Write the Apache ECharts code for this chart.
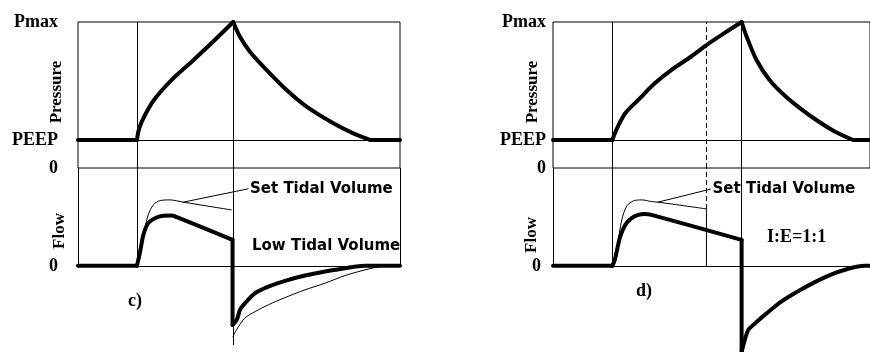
<!DOCTYPE html>
<html>
<head>
<meta charset="utf-8">
<script src="https://cdn.jsdelivr.net/npm/echarts@6/dist/echarts.min.js"></script>
<style>
  html, body { margin: 0; padding: 0; background: #fff; }
  #chart { width: 870px; height: 352px; }
</style>
</head>
<body>
<div id="chart"></div>
<script>
// y ticks
const PEEP = 19.2
const PMAX = 100
const pressureTicks = [0, PEEP, PMAX]
const pressureTickLabels = ['0', 'PEEP', 'Pmax']
const flowTicks = [0]
const flowTickLabels = ['0']

// panel c) - low tidal volume
const cInspStart = 18.4
const cInspEnd = 48.1
const cPressureBaseL = [[0, PEEP], [18.3, PEEP]]
const cPressureRise = [[18.3, PEEP], [19.0, 27.2], [20.8, 36.3], [23.6, 46.6], [29.1, 60.3], [35.3, 72.8], [41.5, 85.6], [48.2, PMAX]]
const cPressureFall = [[48.2, PMAX], [50.3, 89.9], [53.4, 79.7], [58.6, 67.1], [64.8, 53.4], [71.0, 42.0], [79.3, 30.6], [85.5, 23.7], [90.7, PEEP]]
const cPressureBaseR = [[90.7, PEEP], [100, PEEP]]
const cFlowBase = [[0, 0], [18.3, 0]]
const cFlowInsp = [[18.3, 0], [19.3, 14.6], [20.3, 31.7], [21.8, 43.6], [23.9, 48.7], [26.5, 51.1], [29.1, 51.4], [30.7, 49.8], [48.0, 26.6]]
const cFlowDrop = [[48.0, 26.6], [48.0, -60.3]]
const cFlowExp = [[48.0, -60.3], [49.3, -55.2], [50.3, -45.0], [51.9, -38.1], [55.0, -27.9], [59.1, -21.2], [64.3, -15.3], [70.5, -9.9], [76.7, -5.8], [82.9, -2.4], [89.1, 0], [100, 0]]
const cSetFlowInsp = [[18.4, 0], [20.8, 38.5], [21.8, 52.1], [23.4, 62.3], [25.5, 66.7], [28.6, 67.4], [32.7, 65.1], [47.6, 57.2]]
const cSetFlowExp = [[48.1, -72.2], [49.2, -65.4], [51.8, -53.4], [55.0, -46.7], [59.1, -39.8], [64.3, -32.4], [70.5, -24.5], [76.7, -17.7], [82.9, -9.9], [89.1, -4.1], [92.2, -1.7], [95.3, 0]]
const cPointer = [[32.7, 65.1], [52.8, 78.7]]

// panel d) - I:E = 1:1
const dInspStart = 18.7
const dSetInspEnd = 48.4
const dInspEnd = 59.5
const dPressureBaseL = [[0, PEEP], [18.7, PEEP]]
const dPressureRise = [[18.7, PEEP], [20.2, 27.2], [22.8, 37.5], [26.9, 46.6], [32.1, 58.0], [37.3, 67.1], [43.5, 76.2], [48.4, 84.2], [53.9, 92.2], [59.5, PMAX]]
const dPressureFall = [[59.5, PMAX], [61.1, 89.9], [64.2, 74.0], [68.3, 60.3], [73.5, 48.8], [78.7, 39.7], [83.9, 31.7], [89.0, 24.9], [94.7, PEEP]]
const dPressureBaseR = [[94.7, PEEP], [100, PEEP]]
const dFlowBase = [[0, 0], [18.7, 0]]
const dFlowInsp = [[18.7, 0], [19.5, 6.1], [20.2, 16.3], [21.2, 29.9], [22.8, 41.9], [24.8, 48.7], [26.9, 52.1], [29.0, 53.1], [31.1, 52.1], [59.5, 26.6]]
const dFlowDrop = [[59.5, 26.6], [59.5, -88]]
const dFlowExp = [[59.5, -88], [60.5, -75.6], [61.6, -65.4], [63.2, -60.3], [66.8, -50.1], [72.0, -36.5], [77.1, -26.3], [82.3, -17.1], [87.5, -9.2], [92.7, -3.4], [98.4, 0], [100, 0]]
const dSetFlowInsp = [[18.7, 0], [20.2, 19.7], [21.7, 47.0], [23.3, 61.3], [25.4, 66.4], [28.0, 67.4], [31.1, 65.7], [33.1, 65.1], [48.4, 58.2]]
const dSetFlowDrop = [[48.4, 58.2], [48.4, 0]]
const dPointer = [[33.1, 65.1], [49.7, 78.4]]

const SERIF = 'bold 18px "Liberation Serif", "DejaVu Serif", serif'
const BLACK = '#000'

function curve(grid, data, width, smooth, extra) {
  return Object.assign({
    type: 'line',
    xAxisIndex: grid,
    yAxisIndex: grid,
    data,
    smooth: smooth ? 0.3 : false,
    symbol: 'none',
    silent: true,
    lineStyle: { color: BLACK, width, join: 'round', cap: 'round' },
    z: width > 1 ? 4 : 3,
  }, extra || {})
}

function frame(lines) {
  return {
    symbol: ['none', 'none'],
    silent: true,
    animation: false,
    label: { show: false },
    lineStyle: { color: BLACK, width: 1, type: 'solid' },
    emphasis: { disabled: true },
    data: lines,
  }
}

const dashed = { lineStyle: { type: [5, 3], color: BLACK, width: 1 } }
const seg = (x, y1, y2, style) => [Object.assign({ coord: [x, y1] }, style || {}), { coord: [x, y2] }]

function pressureAxis(grid, margin) {
  return {
    type: 'value', gridIndex: grid, min: 0, max: PMAX,
    axisLine: { show: false }, axisTick: { show: false }, splitLine: { show: false },
    axisLabel: {
      customValues: pressureTicks,
      formatter: v => pressureTickLabels[pressureTicks.indexOf(v)] || '',
      margin, color: BLACK, fontFamily: '"Liberation Serif", serif', fontWeight: 'bold', fontSize: 18,
    },
  }
}

function flowAxis(grid, margin) {
  return {
    type: 'value', gridIndex: grid, min: -88, max: 100,
    axisLine: { show: false }, axisTick: { show: false }, splitLine: { show: false },
    axisLabel: {
      customValues: flowTicks,
      formatter: v => flowTickLabels[flowTicks.indexOf(v)] || '',
      margin, color: BLACK, fontFamily: '"Liberation Serif", serif', fontWeight: 'bold', fontSize: 18,
    },
  }
}

const xAxisBase = { type: 'value', min: 0, max: 100, show: false }

function pointer(grid, data) {
  return curve(grid, data, 1, false, {
    endLabel: {
      show: true, formatter: 'Set Tidal Volume', distance: 2,
      color: BLACK, fontFamily: '"DejaVu Sans", sans-serif', fontWeight: 'bold', fontSize: 15,
    },
  })
}

const chart = echarts.init(document.getElementById('chart'), null, { renderer: 'canvas' })

const option = {
  animation: false,
  backgroundColor: '#fff',
  grid: [
    { left: 78, top: 22, width: 322, height: 146, show: true, borderColor: BLACK, borderWidth: 1 },
    { left: 78, top: 168, width: 322, height: 184 },
    { left: 553, top: 22, width: 322, height: 146, show: true, borderColor: BLACK, borderWidth: 1 },
    { left: 553, top: 168, width: 322, height: 184 },
  ],
  xAxis: [0, 1, 2, 3].map(i => Object.assign({ gridIndex: i }, xAxisBase)),
  yAxis: [pressureAxis(0, 20), flowAxis(1, 20), pressureAxis(2, 7), flowAxis(3, 12)],
  series: [
    // c) pressure
    curve(0, cPressureBaseL, 4, false, {
      markLine: frame([{ yAxis: PEEP }, { xAxis: cInspStart }, { xAxis: cInspEnd }]),
    }),
    curve(0, cPressureRise, 4, true),
    curve(0, cPressureFall, 4, true),
    curve(0, cPressureBaseR, 4, false),
    // c) flow
    curve(1, cFlowBase, 4, false, {
      markLine: frame([
        { yAxis: 0 },
        seg(0, 0, 100), seg(100, 0, 100),
        seg(cInspStart, 0, 100), seg(cInspEnd, -81, 100),
      ]),
    }),
    curve(1, cFlowInsp, 4, true),
    curve(1, cFlowDrop, 4, false),
    curve(1, cFlowExp, 4, true),
    curve(1, cSetFlowInsp, 1, true),
    curve(1, cSetFlowExp, 1, true),
    pointer(1, cPointer),
    // d) pressure
    curve(2, dPressureBaseL, 4, false, {
      markLine: frame([{ yAxis: PEEP }, { xAxis: dInspStart }, Object.assign({ xAxis: dSetInspEnd }, dashed), { xAxis: dInspEnd }]),
    }),
    curve(2, dPressureRise, 4, true),
    curve(2, dPressureFall, 4, true),
    curve(2, dPressureBaseR, 4, false),
    // d) flow
    curve(3, dFlowBase, 4, false, {
      markLine: frame([
        { yAxis: 0 },
        seg(0, 0, 100),
        seg(dInspStart, 0, 100),
        seg(dSetInspEnd, 58.2, 100, dashed),
        seg(dInspEnd, -88, 100),
      ]),
    }),
    curve(3, dFlowInsp, 4, true),
    curve(3, dFlowDrop, 4, false),
    curve(3, dFlowExp, 4, true),
    curve(3, dSetFlowInsp, 1, true),
    curve(3, dSetFlowDrop, 1, false),
    pointer(3, dPointer),
  ],
  graphic: [
    { type: 'text', x: 57, y: 92, rotation: Math.PI / 2, style: { text: 'Pressure', font: 'bold 17px "Liberation Serif", serif', fill: BLACK, align: 'center', verticalAlign: 'middle' } },
    { type: 'text', x: 60, y: 231, rotation: Math.PI / 2, style: { text: 'Flow', font: 'bold 17px "Liberation Serif", serif', fill: BLACK, align: 'center', verticalAlign: 'middle' } },
    { type: 'text', x: 533, y: 92, rotation: Math.PI / 2, style: { text: 'Pressure', font: 'bold 17px "Liberation Serif", serif', fill: BLACK, align: 'center', verticalAlign: 'middle' } },
    { type: 'text', x: 532, y: 235, rotation: Math.PI / 2, style: { text: 'Flow', font: 'bold 17px "Liberation Serif", serif', fill: BLACK, align: 'center', verticalAlign: 'middle' } },
    { type: 'text', x: 252, y: 246, style: { text: 'Low Tidal Volume', font: 'bold 15px "DejaVu Sans", sans-serif', fill: BLACK, align: 'left', verticalAlign: 'middle' } },
    { type: 'text', x: 135, y: 301, style: { text: 'c)', font: SERIF, fill: BLACK, align: 'center', verticalAlign: 'middle' } },
    { type: 'text', x: 644, y: 291, style: { text: 'd)', font: SERIF, fill: BLACK, align: 'center', verticalAlign: 'middle' } },
    { type: 'text', x: 767, y: 237, style: { text: 'I:E=1:1', font: SERIF, fill: BLACK, align: 'left', verticalAlign: 'middle' } },
  ],
}

chart.setOption(option)
</script>
</body>
</html>
